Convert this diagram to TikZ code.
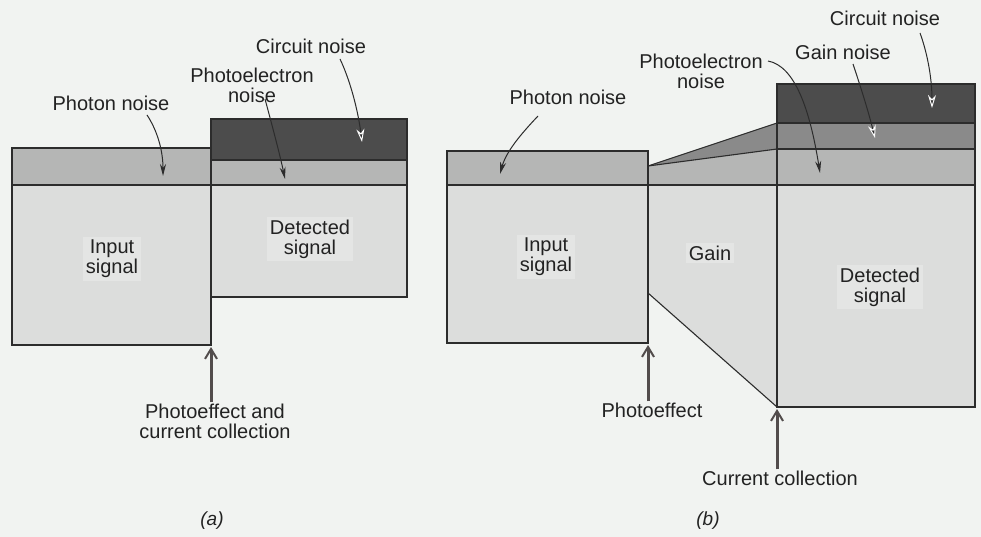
\documentclass[tikz,border=0pt]{standalone}
\usepackage{fontspec}
\setmainfont{Liberation Sans}
\usetikzlibrary{arrows.meta}
\definecolor{bgc}{HTML}{F1F3F1}
\definecolor{sigc}{HTML}{DCDDDC}
\definecolor{sigl}{HTML}{E4E5E4}
\definecolor{bandc}{HTML}{B5B6B5}
\definecolor{gainc}{HTML}{8A8A8A}
\definecolor{circc}{HTML}{4C4C4C}
\definecolor{linec}{HTML}{2C2C2C}
\definecolor{textc}{HTML}{222222}
\definecolor{arrc}{HTML}{524C4C}
\begin{document}
\begin{tikzpicture}[x=1pt,y=-1pt,
  lbl/.style={font=\fontsize{20}{20}\selectfont, text=textc, align=center, inner sep=1pt},
  inlbl/.style={lbl, fill=sigl, inner sep=3pt},
  caplbl/.style={font=\fontsize{19}{20}\selectfont\itshape, text=textc, inner sep=1pt},
  outl/.style={draw=linec, line width=1.1pt},
  noisearr/.style={draw=linec, line width=1pt, -{Stealth[length=12pt,width=6pt]}},
  darkarr/.style={draw=linec, line width=1pt, -{Stealth[length=13pt,width=8pt,color=white,fill=linec,line width=1pt]}},
  bigarr/.style={draw=arrc, line width=3pt, -{Straight Barb[length=10pt,width=12pt,line width=2pt]}},
]
\useasboundingbox (0,0) rectangle (981,537);
\fill[bgc] (0,0) rectangle (981,537);

% ---------- panel (a) ----------
\fill[sigc] (12,185) rectangle (211,345);
\fill[bandc] (12,148) rectangle (211,185);
\fill[sigc] (211,185) rectangle (407,297);
\fill[bandc] (211,160) rectangle (407,185);
\fill[circc] (211,119) rectangle (407,160);
\draw[outl] (12,148) rectangle (211,345);
\draw[outl] (12,185) -- (211,185);
\draw[outl] (211,119) rectangle (407,297);
\draw[outl] (211,160) -- (407,160);
\draw[outl] (211,185) -- (407,185);

\node[inlbl] (inA) at (112,259) {Input\\signal};
\node[inlbl] (detA) at (310,239) {Detected\\signal};
\node[lbl] (pnA) at (111,103) {Photon noise};
\node[lbl] (penA) at (252,85) {Photoelectron\\noise};
\node[lbl] (cnA) at (311,46) {Circuit noise};
\node[lbl] (peA) at (215,421) {Photoeffect and\\current collection};
\node[caplbl] (capA) at (212,521) {(a)};

\coordinate (pnAt) at (163,176);
\coordinate (penAt) at (285,179);
\coordinate (cnAt) at (362,142);
\coordinate (peAt) at (211,347);
\draw[noisearr] (147,115) .. controls (157,130) and (163,150) .. (pnAt);
\draw[noisearr] (265,99) .. controls (272,125) and (280,155) .. (penAt);
\draw[darkarr] (340,59) .. controls (350,80) and (358,110) .. (cnAt);
\draw[bigarr] (peA.north -| peAt) -- (peAt);

% ---------- panel (b) ----------
\fill[sigc] (447,185) rectangle (648,343);
\fill[bandc] (447,151) rectangle (648,185);
\fill[sigc] (648,185) -- (777,185) -- (777,407) -- (648,293) -- cycle;
\fill[bandc] (648,166) -- (777,149) -- (777,185) -- (648,185) -- cycle;
\fill[gainc] (648,166) -- (777,123) -- (777,149) -- cycle;
\fill[sigc] (777,185) rectangle (975,407);
\fill[bandc] (777,149) rectangle (975,185);
\fill[gainc] (777,123) rectangle (975,149);
\fill[circc] (777,84) rectangle (975,123);
\draw[outl] (447,151) rectangle (648,343);
\draw[outl] (447,185) -- (975,185);
\draw[outl] (648,166) -- (777,123);
\draw[outl] (648,166) -- (777,149);
\draw[outl] (648,293) -- (777,407);
\draw[outl] (777,84) rectangle (975,407);
\draw[outl] (777,123) -- (975,123);
\draw[outl] (777,149) -- (975,149);

\node[inlbl] (inB) at (546,257) {Input\\signal};
\node[inlbl] (gainB) at (710,253) {Gain};
\node[inlbl] (detB) at (880,287) {Detected\\signal};
\node[lbl] (pnB) at (568,97) {Photon noise};
\node[lbl] (penB) at (701,71) {Photoelectron\\noise};
\node[lbl] (gnB) at (843,52) {Gain noise};
\node[lbl] (cnB) at (885,18) {Circuit noise};
\node[lbl] (pheB) at (652,410) {Photoeffect};
\node[lbl] (ccB) at (780,478) {Current collection};
\node[caplbl] (capB) at (708,521) {(b)};

\coordinate (pnBt) at (500,174);
\coordinate (penBt) at (820,173);
\coordinate (gnBt) at (875,138);
\coordinate (cnBt) at (932,108);
\coordinate (pheBt) at (648,345);
\coordinate (ccBt) at (777,409);
\draw[noisearr] (538,116) .. controls (520,135) and (506,152) .. (pnBt);
\draw[noisearr] (768,61) .. controls (795,66) and (810,110) .. (penBt);
\draw[darkarr] (853,64) .. controls (860,85) and (868,110) .. (gnBt);
\draw[darkarr] (920,33) .. controls (928,55) and (932,80) .. (cnBt);
\draw[bigarr] (pheB.north -| pheBt) -- (pheBt);
\draw[bigarr] (ccB.north -| ccBt) -- (ccBt);
\end{tikzpicture}
\end{document}
